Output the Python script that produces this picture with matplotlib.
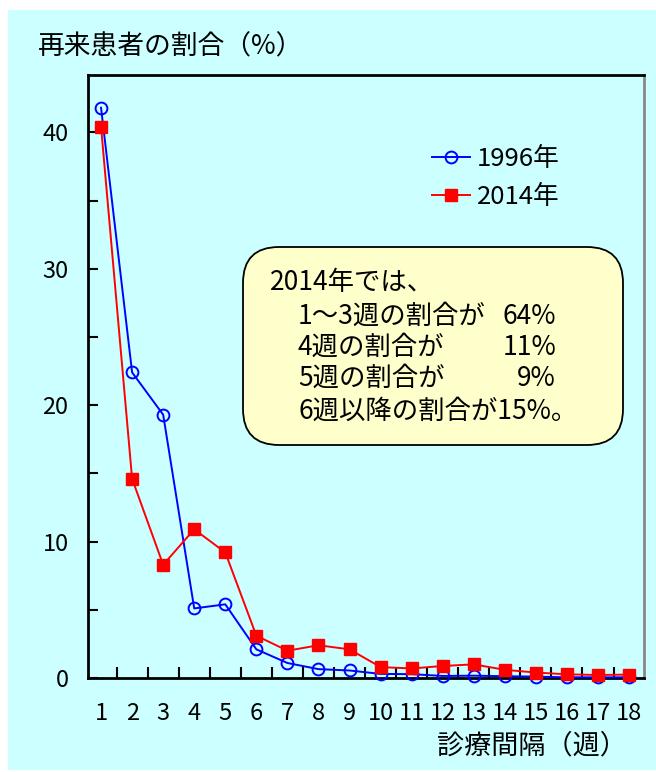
# 再来患者の割合と診療間隔（1996年・2014年）
import matplotlib
matplotlib.use("Agg")
import matplotlib.pyplot as plt
from matplotlib.patches import Rectangle, FancyBboxPatch

plt.rcParams["font.family"] = ["Noto Sans CJK JP", "DejaVu Sans"]

# ------------------------------------------------------------
# データ
# ------------------------------------------------------------
weeks = list(range(1, 19))
week_labels = [str(w) for w in weeks]

ratio_1996 = [41.8, 22.4, 19.3, 5.1, 5.4, 2.1, 1.1, 0.65, 0.55, 0.3,
              0.28, 0.15, 0.17, 0.13, 0.1, 0.05, 0.05, 0.05]
ratio_2014 = [40.4, 14.6, 8.3, 10.9, 9.2, 3.1, 2.0, 2.4, 2.1, 0.8,
              0.7, 0.88, 1.0, 0.6, 0.4, 0.27, 0.22, 0.25]

series_names = ["1996年", "2014年"]

box_title = "2014年では、"
box_items = ["1～3週の割合が", "4週の割合が", "5週の割合が"]
box_values = ["64%", "11%", "9%"]
box_last = "6週以降の割合が15%。"

# ------------------------------------------------------------
# 図
# ------------------------------------------------------------
W, H = 656, 772
fig = plt.figure(figsize=(W / 100, H / 100), dpi=100, facecolor="white")

BG = "#CCFFFF"
fig.patches.append(Rectangle((8 / W, 2 / H), 1 - 8 / W, (H - 12) / H,
                             transform=fig.transFigure, facecolor=BG,
                             edgecolor="none", zorder=-5))

ax = fig.add_axes([88 / W, 1 - 678 / H, (644 - 88) / W, (678 - 75) / H])
ax.set_facecolor(BG)

ax.plot(weeks, ratio_1996, color="#0000FF", lw=1.4, marker="o",
        markersize=8.5, markerfacecolor="none", markeredgecolor="#0000FF",
        markeredgewidth=1.4, label=series_names[0], zorder=3, clip_on=False)
ax.plot(weeks, ratio_2014, color="#FF0000", lw=1.4, marker="s",
        markersize=8, markerfacecolor="#FF0000", markeredgecolor="#FF0000",
        label=series_names[1], zorder=3, clip_on=False)

ax.set_xlim(0.58, 18.48)
ax.set_ylim(0, 44.2)

ax.set_xticks(weeks)
ax.set_xticklabels(week_labels)
ax.set_xticks([w + 0.5 for w in weeks[:-1]], minor=True)
ax.tick_params(axis="x", which="major", length=0, pad=17, labelsize=17)
ax.tick_params(axis="x", which="minor", direction="in", length=8, width=1.5)

ax.set_yticks([0, 10, 20, 30, 40])
ax.set_yticks([5, 15, 25, 35], minor=True)
ax.tick_params(axis="y", which="both", direction="in", length=7, width=1.5,
               labelsize=17, pad=14)

for side in ["left", "bottom", "top"]:
    ax.spines[side].set_linewidth(2)
    ax.spines[side].set_color("black")
ax.spines["right"].set_color("#888888")
ax.spines["right"].set_linewidth(2)

# 凡例
ax.legend(loc="upper left", bbox_to_anchor=(432 / W, 1 - 146 / H),
          bbox_transform=fig.transFigure, frameon=False, fontsize=18.5,
          handlelength=1.48, handletextpad=0.27, labelspacing=0.45,
          borderpad=0, borderaxespad=0)

# 軸ラベル
fig.text(38 / W, 1 - 47 / H, "再来患者の割合（%）", fontsize=19.3,
         ha="left", va="center")
fig.text(437 / W, 1 - 746 / H, "診療間隔（週）", fontsize=19.5,
         ha="left", va="center")

# 注記ボックス
box = FancyBboxPatch((243 / 100, (H - 445) / 100), (623 - 243) / 100,
                     (445 - 247) / 100,
                     boxstyle="round,pad=0,rounding_size=0.36",
                     transform=fig.dpi_scale_trans, facecolor="#FFFFCC",
                     edgecolor="black", linewidth=1.3, zorder=4)
fig.patches.append(box)

fs_box = 19
fig.text(270 / W, 1 - 282 / H, box_title, fontsize=fs_box, ha="left",
         va="center", zorder=5)
line_y = [316, 347, 378]
for item, val, y in zip(box_items, box_values, line_y):
    fig.text(298 / W, 1 - y / H, item, fontsize=fs_box, ha="left",
             va="center", zorder=5)
    fig.text(556 / W, 1 - y / H, val, fontsize=fs_box, ha="right",
             va="center", zorder=5)
fig.text(298 / W, 1 - 411 / H, box_last, fontsize=fs_box, ha="left",
         va="center", zorder=5)

fig.savefig("out.png", dpi=100, facecolor="white")
